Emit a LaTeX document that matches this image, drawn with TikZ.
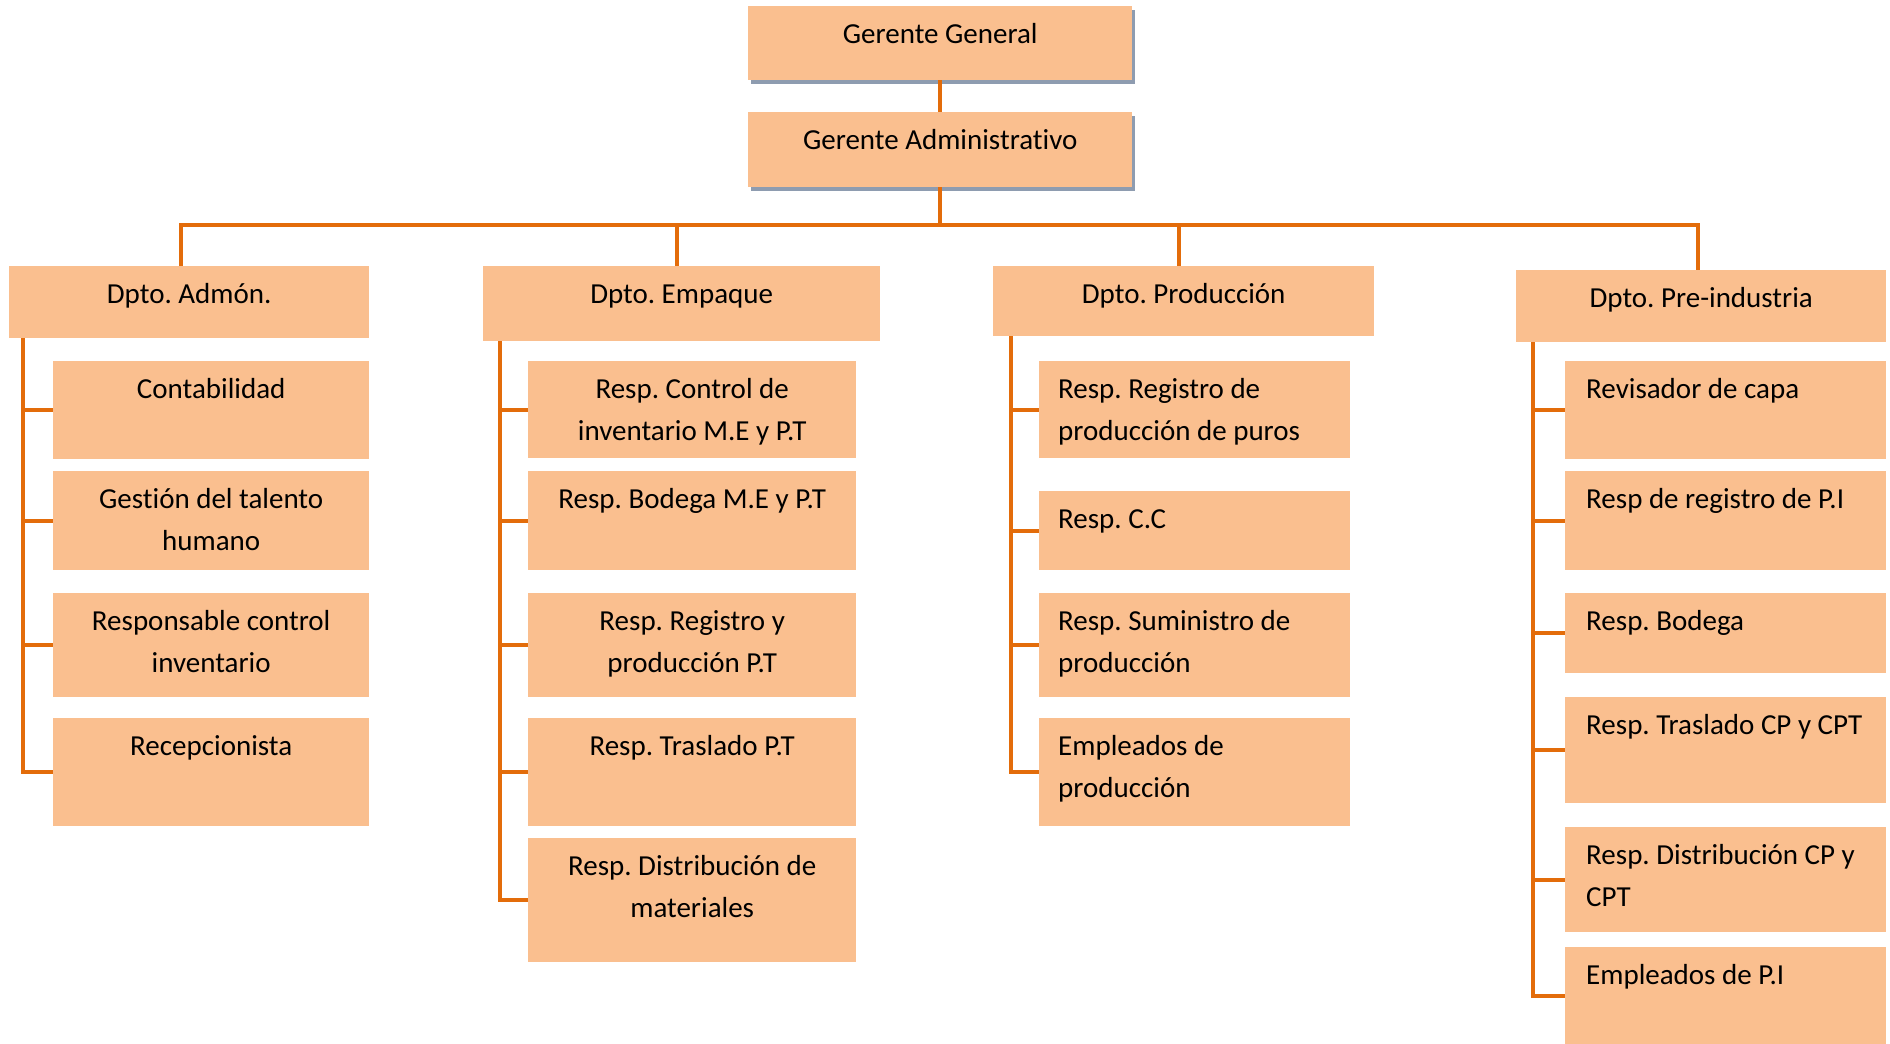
\documentclass[tikz,border=0pt]{standalone}
\usepackage{fontspec}
\setmainfont{Carlito}[Ligatures={NoCommon}]
\usetikzlibrary{shadows}
\definecolor{boxfill}{HTML}{FABF8F}
\definecolor{linkc}{HTML}{E36C0A}
\definecolor{shadowc}{HTML}{8E9CB0}
\frenchspacing

\begin{document}
\begin{tikzpicture}[x=1pt, y=-1pt,
  box/.style={rectangle, fill=boxfill, anchor=north west, inner sep=0pt},
  topbox/.style={box, drop shadow={shadow xshift=3pt, shadow yshift=-4pt, fill=shadowc, opacity=1}},
  lbl/.style={font=\fontsize{29}{42}\selectfont, inner sep=0pt, align=center},
  lleft/.style={lbl, align=left},
  link/.style={draw=linkc, line width=4pt}
]
\useasboundingbox (0,0) rectangle (1890,1044);

% --- MANAGEMENT ---
\node[topbox, minimum width=384pt, minimum height=74pt] (gg) at (748,6) {};
\node[lbl, anchor=north] (gg-t) at ([yshift=-7.6pt]gg.north) {\strut Gerente General};
\node[topbox, minimum width=384pt, minimum height=75pt] (ga) at (748,112) {};
\node[lbl, anchor=north] (ga-t) at ([yshift=-7.6pt]ga.north) {\strut Gerente Administrativo};
\draw[link] (gg.south) -- (ga.north);

% --- DEPARTMENTS ---
\foreach \nm/\xx/\yy/\ww/\hh/\txt in {d1/9/266/360/72/Dpto. Admón., d2/483/266/397/75/Dpto. Empaque,
    d3/993/266/381/70/Dpto. Producción, d4/1516/270/370/72/Dpto. Pre-industria} {
  \node[box, minimum width=\ww pt, minimum height=\hh pt] (\nm) at (\xx,\yy) {};
  \node[lbl, anchor=north] (\nm-t) at ([yshift=-7.6pt]\nm.north) {\strut\txt};
}

% bus from Gerente Administrativo to the departments
\coordinate (bus) at (0,225);
\draw[link] (ga.south) -- (ga.south |- bus);
\foreach \d/\s in {d1/-8,d2/-5,d3/-5,d4/-3} {
  \draw[link] (ga.south |- bus) -| ([xshift=\s pt]\d.north);
}

% Dpto. Admón.
\foreach \nm/\yy/\hh/\txt in {a1/361/98/Contabilidad, a2/471/99/{Gestión del talento\\humano},
    a3/593/104/{Responsable control\\inventario}, a4/718/108/Recepcionista} {
  \node[box, minimum width=316pt, minimum height=\hh pt] (\nm) at (53,\yy) {};
  \node[lbl, anchor=north] (\nm-t) at ([yshift=-7.6pt]\nm.north) {\strut\txt};
  \draw[link] ([xshift=14pt]d1.south west) |- (\nm.west);
}

% Dpto. Empaque
\foreach \nm/\yy/\hh/\txt in {e1/361/97/{Resp. Control de\\inventario M.E y P.T}, e2/471/99/Resp. Bodega M.E y P.T,
    e3/593/104/{Resp. Registro y\\producción P.T}, e4/718/108/Resp. Traslado P.T,
    e5/838/124/{Resp. Distribución de\\materiales}} {
  \node[box, minimum width=328pt, minimum height=\hh pt] (\nm) at (528,\yy) {};
  \node[lbl, anchor=north] (\nm-t) at ([yshift=-7.6pt]\nm.north) {\strut\txt};
  \draw[link] ([xshift=17pt]d2.south west) |- (\nm.west);
}

% Dpto. Producción
\foreach \nm/\yy/\hh/\txt in {p1/361/97/{Resp. Registro de\\producción de puros}, p2/491/79/Resp. C.C,
    p3/593/104/{Resp. Suministro de\\producción}, p4/718/108/{Empleados de\\producción}} {
  \node[box, minimum width=311pt, minimum height=\hh pt] (\nm) at (1039,\yy) {};
  \node[lleft, anchor=north west] (\nm-t) at ([xshift=19pt,yshift=-7.6pt]\nm.north west) {\strut\txt};
  \draw[link] ([xshift=18pt]d3.south west) |- (\nm.west);
}

% Dpto. Pre-industria
\foreach \nm/\yy/\hh/\txt in {r1/361/98/Revisador de capa, r2/471/99/Resp de registro de P.I,
    r3/593/80/Resp. Bodega, r4/697/106/Resp. Traslado CP y CPT,
    r5/827/105/{Resp. Distribución CP y\\CPT}, r6/947/97/Empleados de P.I} {
  \node[box, minimum width=321pt, minimum height=\hh pt] (\nm) at (1565,\yy) {};
  \node[lleft, anchor=north west] (\nm-t) at ([xshift=21pt,yshift=-7.6pt]\nm.north west) {\strut\txt};
  \draw[link] ([xshift=17pt]d4.south west) |- (\nm.west);
}

\end{tikzpicture}
\end{document}
